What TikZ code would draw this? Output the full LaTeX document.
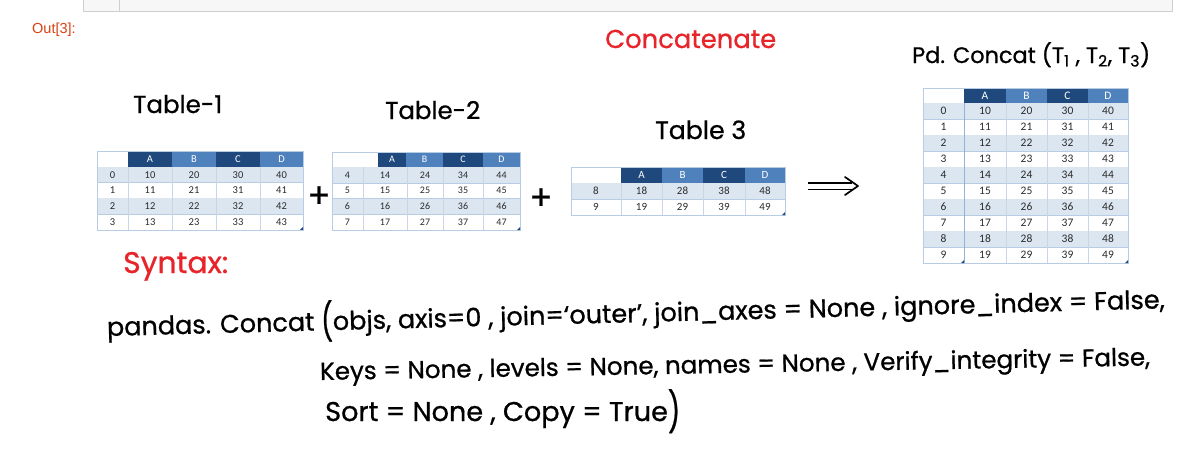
\documentclass[tikz,border=0pt]{standalone}
\usepackage{fontspec}
\setmainfont{Liberation Sans}
\newfontfamily\handfont{Poppins}[FakeBold=0.8]
\newfontfamily\calfont{Carlito}
\usetikzlibrary{arrows.meta}
\definecolor{hdark}{HTML}{1F497D}
\definecolor{hlight}{HTML}{4F81BD}
\definecolor{rowblue}{HTML}{DCE6F1}
\definecolor{gridc}{HTML}{B8CCE4}
\definecolor{vgrid}{HTML}{C9D5E4}
\definecolor{redink}{HTML}{E8242B}
\definecolor{outred}{HTML}{D84315}
\definecolor{celltxt}{HTML}{2B2B2B}
\definecolor{barfill}{HTML}{F7F7F7}
\definecolor{barline}{HTML}{CFCFCF}
\newcommand\fitw[2]{\resizebox{#1pt}{!}{#2}}
\newcommand\tallparen[1]{\raisebox{-0.18em}{\scalebox{1}[1.45]{#1}}}
\def\hh{15}\def\rh{16}
\def\cellfont{\calfont\fontsize{10}{11}\selectfont}
\newcommand\tblhead[8]{%
  \fill[hdark]  (#3,#8) rectangle (#4,{#8+\hh});
  \fill[hlight] (#4,#8) rectangle (#5,{#8+\hh});
  \fill[hdark]  (#5,#8) rectangle (#6,{#8+\hh});
  \fill[hlight] (#6,#8) rectangle (#7,{#8+\hh});
  \node[hdr] (#1-hA) at ({(#3+#4)/2},{#8+\hh/2}) {A};
  \node[hdr] (#1-hB) at ({(#4+#5)/2},{#8+\hh/2}) {B};
  \node[hdr] (#1-hC) at ({(#5+#6)/2},{#8+\hh/2}) {C};
  \node[hdr] (#1-hD) at ({(#6+#7)/2},{#8+\hh/2}) {D};
}
\newcommand\tblbody[9]{%
  \foreach \idx/\va/\vb/\vc/\vd [count=\k from 0] in {#9} {
    \pgfmathsetmacro\ya{#8+\rh*\k}
    \pgfmathsetmacro\yb{\ya+\rh}
    \pgfmathtruncatemacro\odd{mod(\k,2)}
    \ifnum\odd=0 \fill[rowblue] (#2,\ya) rectangle (#7,\yb); \fi
    \draw[gridline] (#2,\yb) -- (#7,\yb);
    \foreach \xx in {#3,#4,#5,#6} {\draw[vline] (\xx,\ya) -- (\xx,\yb);}
    \node[cell] (#1-r\k-i) at ({(#2+#3)/2},{\ya+\rh/2}) {\idx};
    \node[cell] (#1-r\k-a) at ({(#3+#4)/2},{\ya+\rh/2}) {\va};
    \node[cell] (#1-r\k-b) at ({(#4+#5)/2},{\ya+\rh/2}) {\vb};
    \node[cell] (#1-r\k-c) at ({(#5+#6)/2},{\ya+\rh/2}) {\vc};
    \node[cell] (#1-r\k-d) at ({(#6+#7)/2},{\ya+\rh/2}) {\vd};
  }
}
\newcommand\tblframe[5]{% x0 ytop x5 ybot name
  \draw[tframe] (#1,#2) rectangle (#3,#4);
  \fill[hdark] (#3,#4) -- ++(-3,0) -- ++(3,-3) -- cycle;
}
\begin{document}
\begin{tikzpicture}[x=1pt,y=-1pt,
  hdr/.style={inner sep=0, text=white, font=\cellfont},
  cell/.style={inner sep=0, text=celltxt, font=\cellfont},
  gridline/.style={draw=gridc, line width=0.6pt},
  vline/.style={draw=vgrid, line width=0.5pt},
  tframe/.style={draw=gridc, line width=0.6pt},
  hw/.style={anchor=base west, inner sep=0, font=\handfont\fontsize{20}{24}\selectfont},
  ink/.style={draw=black, line width=1.7pt, line cap=round, line join=round},
  plus/.style={inner sep=0, font=\handfont\fontsize{34}{34}\selectfont},
]
\useasboundingbox (0,0) rectangle (1184,467);
\fill[white] (0,0) rectangle (1184,467);
% notebook input cell remnant
\draw[draw=barline, fill=barfill] (83,-3) rectangle (1172,11);
\draw[draw=barline] (119,-3) -- (119,11);
\node[anchor=base west, inner sep=0, text=outred, font=\fontsize{14.5}{16}\selectfont] (out) at (32,33) {Out[3]:};

% titles
\node[hw, text=redink] (concat) at (605,48) {\fitw{171}{Concatenate}};
\node[hw] (pdc) at (912,63) {\fitw{238}{Pd. Concat (T\textsubscript{1} , T\textsubscript{2}, T\textsubscript{3})}};
\node[hw] (t1lab) at (133,113) {\fitw{89}{Table-1}};
\node[hw] (t2lab) at (385,119) {\fitw{95}{Table-2}};
\node[hw] (t3lab) at (655,139) {\fitw{91}{Table 3}};

% Table 1
\def\hh{16}\def\rh{15.7}\def\cellfont{\calfont\fontsize{10.5}{11}\selectfont}
\tblhead{t1}{97}{128}{172}{216}{260}{303}{151}
\tblbody{t1}{97}{128}{172}{216}{260}{303}{167}{0/10/20/30/40,1/11/21/31/41,2/12/22/32/42,3/13/23/33/43}
\tblframe{97}{151}{303}{229.8}{t1}

% Table 2
\def\hh{15}\def\rh{15.8}\def\cellfont{\calfont\fontsize{10}{11}\selectfont}
\tblhead{t2}{332}{378}{406}{443}{483}{520}{152}
\tblbody{t2}{332}{363}{407}{443}{483}{520}{167}{4/14/24/34/44,5/15/25/35/45,6/16/26/36/46,7/17/27/37/47}
\tblframe{332}{152}{520}{230.2}{t2}

% Table 3
\def\hh{16}\def\rh{16}\def\cellfont{\calfont\fontsize{11}{12}\selectfont}
\tblhead{t3}{571}{621}{662}{703}{745}{785}{167}
\tblbody{t3}{571}{621}{662}{703}{745}{785}{183}{8/18/28/38/48,9/19/29/39/49}
\tblframe{571}{167}{785}{215}{t3}

% Result table
\def\hh{15}\def\rh{16}\def\cellfont{\calfont\fontsize{11.5}{12}\selectfont}
\tblhead{tr}{923}{964}{1006}{1047}{1088}{1128}{88}
\tblbody{tr}{923}{964}{1006}{1047}{1088}{1128}{103}{0/10/20/30/40,1/11/21/31/41,2/12/22/32/42,3/13/23/33/43,4/14/24/34/44,5/15/25/35/45,6/16/26/36/46,7/17/27/37/47,8/18/28/38/48,9/19/29/39/49}
\tblframe{923}{88}{1128}{263}{tr}
\draw[draw=hlight!60, line width=0.6pt] (964,103) -- (964,263);
\fill[hdark] (964,263) -- ++(-3,0) -- ++(3,-3) -- cycle;

% plus signs and arrow
\node[plus] (plus1) at (319,197) {+};
\node[plus] (plus2) at (541,199) {+};
\coordinate (arrS) at (808,186);
\coordinate (arrE) at (858,186);
\draw[ink, line cap=butt, line width=1.5pt, double distance=5pt] (arrS) -- ([xshift=-6pt]arrE);
\draw[ink] ([shift={(-13,-9)}]arrE) -- (arrE) -- ([shift={(-13,9)}]arrE);

% syntax
\node[hw, text=redink] (syn) at (123,273) {\fitw{105}{Syntax:}};
\node[hw, rotate=1.5] (line1) at (107,336) {\fitw{1058}{pandas. Concat \tallparen{(}objs, axis=0 , join=‘outer’, join\_axes = None , ignore\_index = False,}};
\node[hw, rotate=1] (line2) at (320,380) {\fitw{830}{Keys = None , levels = None, names = None , Verify\_integrity = False,}};
\node[hw] (line3) at (325,421) {\fitw{355}{Sort = None , Copy = True\tallparen{)}}};
\end{tikzpicture}
\end{document}
